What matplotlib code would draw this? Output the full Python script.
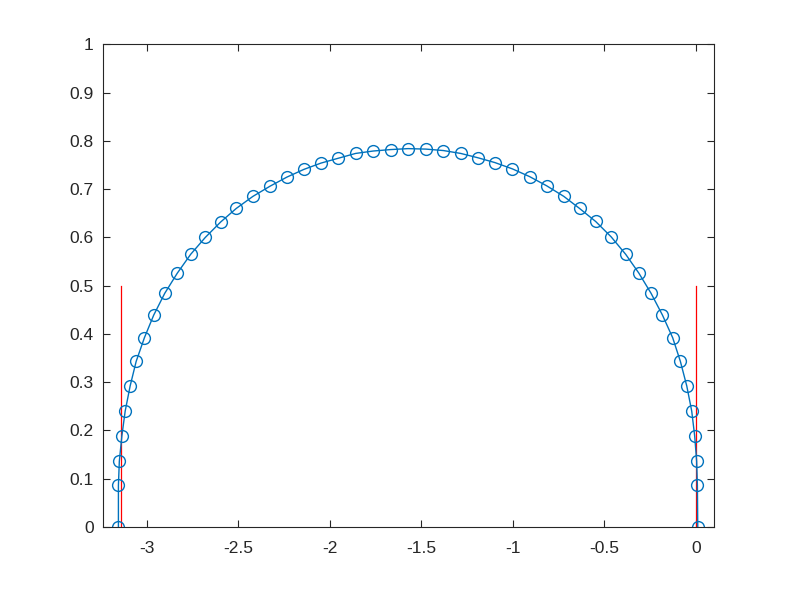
import numpy as np
import matplotlib.pyplot as plt

plt.rcParams['font.family'] = ['Liberation Sans', 'DejaVu Sans']
plt.rcParams['axes.unicode_minus'] = False

# punkty krzywej
x_pts = [-3.155, -3.155, -3.150, -3.136, -3.118, -3.091, -3.058, -3.013, -2.962, -2.902,
         -2.833, -2.760, -2.680, -2.596, -2.511, -2.420, -2.327, -2.234, -2.141, -2.048,
         -1.954, -1.859, -1.763, -1.668, -1.572, -1.475, -1.379, -1.284, -1.190, -1.097,
         -1.002, -0.908, -0.815, -0.721, -0.635, -0.547, -0.462, -0.383, -0.311, -0.244,
         -0.182, -0.126, -0.084, -0.049, -0.022, -0.006, 0.005, 0.009, 0.011]
y_pts = [0.000, 0.086, 0.136, 0.189, 0.240, 0.292, 0.343, 0.392, 0.439, 0.484,
         0.526, 0.565, 0.600, 0.632, 0.660, 0.685, 0.706, 0.725, 0.741, 0.754,
         0.764, 0.774, 0.779, 0.782, 0.784, 0.783, 0.780, 0.774, 0.765, 0.755,
         0.742, 0.726, 0.707, 0.685, 0.660, 0.633, 0.601, 0.565, 0.526, 0.484,
         0.439, 0.392, 0.343, 0.292, 0.240, 0.189, 0.136, 0.086, 0.000]

# czerwone linie pionowe
red_x = [-np.pi, 0.0]
red_y = [0.0, 0.5]

xticks = [-3, -2.5, -2, -1.5, -1, -0.5, 0]
xlabels = ['-3', '-2.5', '-2', '-1.5', '-1', '-0.5', '0']
yticks = [0, 0.1, 0.2, 0.3, 0.4, 0.5, 0.6, 0.7, 0.8, 0.9, 1]
ylabels = ['0', '0.1', '0.2', '0.3', '0.4', '0.5', '0.6', '0.7', '0.8', '0.9', '1']

fig = plt.figure(figsize=(7.89, 5.92), dpi=100)
ax = fig.add_axes([0.13, 0.11, 0.775, 0.815])

for xr in red_x:
    ax.plot([xr, xr], red_y, color='#ff0000', linewidth=0.9)
ax.plot(x_pts, y_pts, '-o', color='#0072bd', linewidth=1.0,
        markersize=8.5, markerfacecolor='none', markeredgewidth=1.0)

ax.set_xlim(-np.pi - 0.1, 0.1)
ax.set_ylim(0, 1)
ax.set_xticks(xticks)
ax.set_xticklabels(xlabels)
ax.set_yticks(yticks)
ax.set_yticklabels(ylabels)
ax.tick_params(direction='in', top=True, right=True, length=5, width=0.8,
               colors='#262626', labelsize=12.5)
ax.tick_params(axis='y', pad=6.5)
ax.tick_params(axis='x', pad=10)
for s in ax.spines.values():
    s.set_color('#262626')
    s.set_linewidth(0.8)

fig.savefig('out.png', dpi=100)
